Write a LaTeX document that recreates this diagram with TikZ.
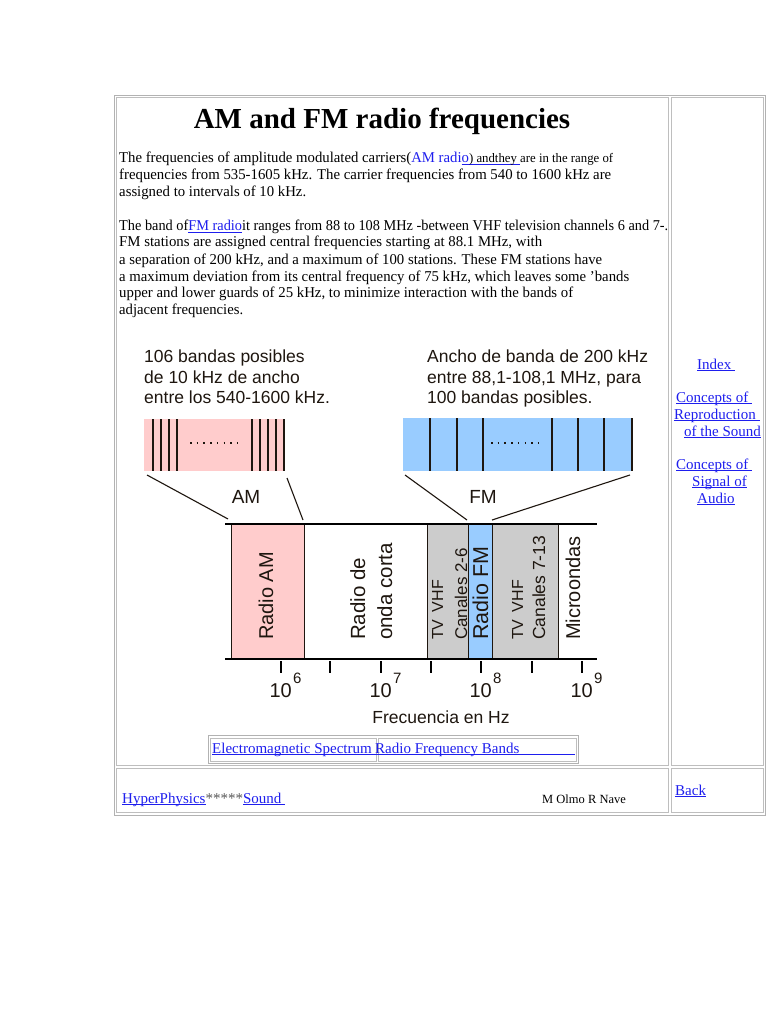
\documentclass[tikz,border=0pt]{standalone}
\usepackage{fontspec}
\usepackage{graphicx}
\setmainfont{Liberation Serif}
\newfontfamily\arial{Liberation Sans}
\definecolor{lb}{RGB}{30,30,238}
\definecolor{amp}{RGB}{255,204,204}
\definecolor{fmb}{RGB}{153,204,255}
\definecolor{tvg}{RGB}{204,204,204}
\definecolor{tborder}{RGB}{190,190,190}
\definecolor{ink}{RGB}{30,22,15}
\newsavebox\lbox
\newcommand\fs[1]{\fontsize{#1}{#1}\selectfont}
\newcommand\ulc[2]{\sbox\lbox{#2}\rlap{\color{#1}\rule[-2pt]{\wd\lbox}{0.7pt}}\usebox\lbox}
\newcommand\lnk[1]{{\color{lb}\ulc{lb}{#1}}}
\newcommand\fitw[2]{\resizebox{#1pt}{\height}{#2}}
\tikzset{
  txt/.style={inner sep=0, anchor=base west, font=\fs{15}},
  lab/.style={inner sep=0, anchor=base west, font=\arial\fs{17.5}, text=ink},
  rot/.style={inner sep=0, anchor=base west, rotate=90, text=ink},
  cell/.style={draw=tborder, line width=0.9pt},
  band/.style={line width=1.6pt, draw=ink},
  fan/.style={line width=1.1pt, draw=ink},
  axisline/.style={line width=2.6pt, draw=black},
  tick/.style={line width=1.5pt, draw=black},
  sep/.style={line width=0.8pt, draw=ink},
  dots/.style={line width=1.3pt, draw=ink, dash pattern=on 1.6pt off 5.1pt}
}
\begin{document}
\begin{tikzpicture}[x=1pt, y=-1pt]
\useasboundingbox (0,0) rectangle (768,1024);
\fill[white] (0,0) rectangle (768,1024);

% table borders
\draw[draw=black!30, line width=0.9pt] (114.5,95.5) rectangle (765,815.5);
\draw[cell] (116.5,97.5) rectangle (668.5,765);
\draw[cell] (671.5,97.5) rectangle (763,765);
\draw[cell] (116.5,768) rectangle (668.5,812.5);
\draw[cell] (671.5,768) rectangle (763,812.5);

% title
\node[inner sep=0, anchor=base] (title) at (382,129) {\fs{29}\bfseries AM and FM radio frequencies};

% paragraphs
\node[txt] (p1) at (119,163) {\fitw{494}{The frequencies of amplitude modulated carriers(\textcolor{lb}{AM radi}\ulc{lb}{\textcolor{lb}{o}\fs{13}) andthey }\fs{13}are in the range of}};
\node[txt] (p2) at (119,180) {\fitw{492}{frequencies from 535-1605 kHz. The carrier frequencies from 540 to 1600 kHz are}};
\node[txt] (p3) at (119,197) {\fitw{187}{assigned to intervals of 10 kHz.}};
\node[txt] (p4) at (119,231) {\fitw{549}{The band of\lnk{FM radio}it ranges from 88 to 108 MHz -between VHF television channels 6 and 7-.}};
\node[txt] (p5) at (119,247) {\fitw{423}{FM stations are assigned central frequencies starting at 88.1 MHz, with}};
\node[txt] (p6) at (119,264) {\fitw{483}{a separation of 200 kHz, and a maximum of 100 stations. These FM stations have}};
\node[txt] (p7) at (119,281) {\fitw{510}{a maximum deviation from its central frequency of 75 kHz, which leaves some 'bands}};
\node[txt] (p8) at (119,297) {\fitw{454}{upper and lower guards of 25 kHz, to minimize interaction with the bands of}};
\node[txt] (p9) at (119,314) {\fitw{124}{adjacent frequencies.}};

% diagram captions
\node[lab] (am1) at (144,362) {106 bandas posibles};
\node[lab] (am2) at (144,383) {de 10 kHz de ancho};
\node[lab] (am3) at (144,403) {entre los 540-1600 kHz.};
\node[lab] (fm1) at (427,362) {Ancho de banda de 200 kHz};
\node[lab] (fm2) at (427,383) {entre 88,1-108,1 MHz, para};
\node[lab] (fm3) at (427,403) {100 bandas posibles.};

% AM band detail
\fill[amp] (144,419) rectangle (284,471);
\foreach \x in {153,161,169,177,252,260,268,276,284} \draw[band] (\x,419) -- (\x,471);
\draw[dots] (190,443) -- (238,443);
% FM band detail
\fill[fmb] (403,418) rectangle (632,471);
\foreach \x in {430,457,483,552,578,604,632} \draw[band] (\x,418) -- (\x,471);
\draw[dots] (491,443) -- (539,443);

% fan labels
\node[inner sep=0, anchor=base, font=\arial\fs{19}, text=ink] (amlab) at (246,503) {AM};
\node[inner sep=0, anchor=base, font=\arial\fs{19}, text=ink] (fmlab) at (483,503) {FM};

% fan connectors
\coordinate (amA) at (147,475); \coordinate (amB) at (228,519);
\coordinate (amC) at (287,478); \coordinate (amD) at (303,520);
\coordinate (fmA) at (405,475); \coordinate (fmB) at (467,520);
\coordinate (fmC) at (630,475); \coordinate (fmD) at (492,520);
\draw[fan] (amA) -- (amB);
\draw[fan] (amC) -- (amD);
\draw[fan] (fmA) -- (fmB);
\draw[fan] (fmC) -- (fmD);

% spectrum bar
\fill[amp] (231,524) rectangle (304,659);
\fill[tvg] (427,524) rectangle (468,659);
\fill[fmb] (468,524) rectangle (492,659);
\fill[tvg] (492,524) rectangle (558,659);
\foreach \x in {231,304,427,468,492,558} \draw[sep] (\x,524) -- (\x,659);
\draw[axisline] (225,524) -- (597,524);
\draw[axisline] (225,659) -- (597,659);
\foreach \x in {281,330,381,431,481,532,582} \draw[tick] (\x,661) -- (\x,673);

% rotated labels
\node[rot, font=\arial\fs{20}] (rAM) at (273,640) {Radio AM};
\node[rot, font=\arial\fs{20.5}] (rSW1) at (365,640) {Radio de};
\node[rot, font=\arial\fs{20.5}] (rSW2) at (392,640) {onda corta};
\node[rot, font=\arial\fs{16}] (rTV1) at (443,640) {TV\hspace{0.45em}VHF};
\node[rot, font=\arial\fs{17}] (rTV1c) at (467,640) {Canales 2-6};
\node[rot, font=\arial\fs{21.5}] (rFM) at (488,640) {Radio FM};
\node[rot, font=\arial\fs{16}] (rTV2) at (523,640) {TV\hspace{0.45em}VHF};
\node[rot, font=\arial\fs{17.5}] (rTV2c) at (545,640) {Canales 7-13};
\node[rot, font=\arial\fs{20}] (rMW) at (580,640) {Microondas};

% axis labels
\foreach \x/\e/\n in {281/6/a,381/7/b,481/8/c,582/9/d}{
  \node[inner sep=0, anchor=base east, font=\arial\fs{20}, text=ink] (ten\n) at (\x+11,697) {10};
  \node[inner sep=0, anchor=base west, font=\arial\fs{15}, text=ink] (exp\n) at (\x+12,683) {\e};
}
\node[inner sep=0, anchor=base, font=\arial\fs{17.5}, text=ink] (freq) at (441,723) {Frecuencia en Hz};

% link table
\draw[draw=black!30, line width=0.9pt] (208,735.5) rectangle (578,763.5);
\draw[cell] (210,738) rectangle (376,761);
\draw[cell] (378,738) rectangle (576,761);
\node[txt] (lk1) at (212,753) {\lnk{Electromagnetic Spectrum }};
\node[txt] (lk2) at (375,753) {\lnk{Radio Frequency Bands\hspace{3.7em}}};

% right column links
\node[txt] (idx) at (697,369) {\lnk{Index }};
\node[txt] (c1a) at (676,402) {\lnk{Concepts of }};
\node[txt] (c1b) at (674,419) {\lnk{Reproduction }};
\node[txt] (c1c) at (684,436) {\lnk{of the Sound}};
\node[txt] (c2a) at (676,469) {\lnk{Concepts of }};
\node[txt] (c2b) at (692,486) {\lnk{Signal of}};
\node[txt] (c2c) at (697,503) {\lnk{Audio}};

% bottom row
\node[txt] (hp) at (122,803) {\lnk{HyperPhysics}\textcolor{black!65}{*****}\lnk{Sound }};
\node[txt, font=\fs{12.5}] (auth) at (542,803) {M Olmo R Nave};
\node[txt] (back) at (675,795) {\lnk{Back}};
\end{tikzpicture}
\end{document}
